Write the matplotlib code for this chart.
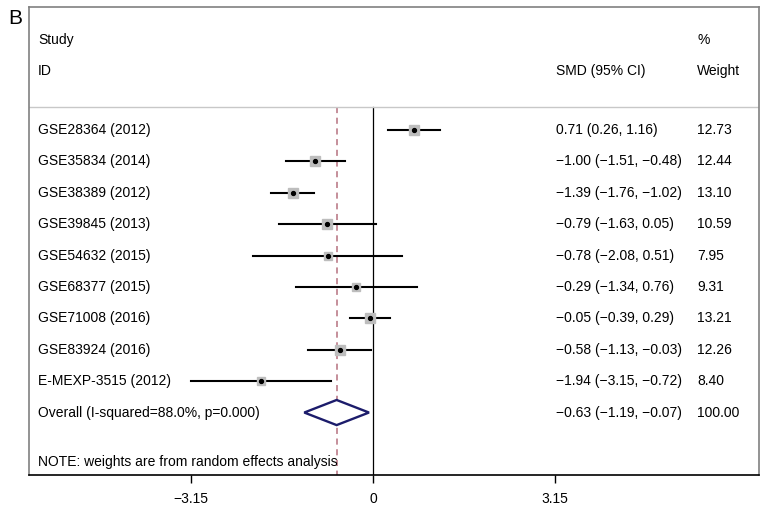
import numpy as np
import matplotlib
matplotlib.use("Agg")
import matplotlib.pyplot as plt

plt.rcParams['font.family'] = ['Liberation Sans', 'DejaVu Sans']

studies = ["GSE28364 (2012)", "GSE35834 (2014)", "GSE38389 (2012)", "GSE39845 (2013)",
           "GSE54632 (2015)", "GSE68377 (2015)", "GSE71008 (2016)", "GSE83924 (2016)",
           "E-MEXP-3515 (2012)"]
smd = [0.71, -1.00, -1.39, -0.79, -0.78, -0.29, -0.05, -0.58, -1.94]
lo = [0.26, -1.51, -1.76, -1.63, -2.08, -1.34, -0.39, -1.13, -3.15]
hi = [1.16, -0.48, -1.02, 0.05, 0.51, 0.76, 0.29, -0.03, -0.72]
weight = [12.73, 12.44, 13.10, 10.59, 7.95, 9.31, 13.21, 12.26, 8.40]

overall_label = "Overall (I-squared=88.0%, p=0.000)"
overall = -0.63
overall_lo = -1.19
overall_hi = -0.07

ticks = [-3.15, 0, 3.15]
tick_labels = ["\u22123.15", "0", "3.15"]


def fmt(v):
    return f"{v:.2f}".replace("-", "\u2212")


fig = plt.figure(figsize=(7.65, 5.07), dpi=100)
ax = fig.add_axes([29 / 765, 1 - 475 / 507, 730 / 765, 468 / 507])

ax.set_xlim(-5.954, 6.68)
ax.set_ylim(10.99, -3.92)

rows = np.arange(len(studies))
fs = 10

# reference lines
ax.plot([0, 0], [-0.73, 10.99], color='black', lw=0.9)
ax.plot([overall, overall], [-0.73, 10.99], color='#b5707e', lw=1.1, ls=(0, (4, 3)))
ax.axhline(-0.73, color='#c8c8c8', lw=1)

for i in rows:
    ax.plot([lo[i], hi[i]], [i, i], color='black', lw=1.5, zorder=3)
    ax.plot(smd[i], i, marker='s', color='#bdbdbd', mec='#bdbdbd',
            markersize=2.0 * np.sqrt(weight[i]), zorder=4)
    ax.plot(smd[i], i, marker='o', color='black', markersize=2.8, zorder=5)
    ax.text(-5.80, i, studies[i], fontsize=fs, va='center')
    ax.text(3.17, i, f"{fmt(smd[i])} ({fmt(lo[i])}, {fmt(hi[i])})", fontsize=fs, va='center')
    ax.text(5.61, i, f"{weight[i]:.2f}", fontsize=fs, va='center')

oy = len(studies)
ax.fill([overall_lo, overall, overall_hi, overall, overall_lo],
        [oy, oy - 0.4, oy, oy + 0.4, oy], facecolor='white', edgecolor='#1c1c6b',
        lw=1.7, zorder=4)
ax.text(-5.80, oy, overall_label, fontsize=fs, va='center')
ax.text(3.17, oy, f"{fmt(overall)} ({fmt(overall_lo)}, {fmt(overall_hi)})", fontsize=fs, va='center')
ax.text(5.61, oy, "100.00", fontsize=fs, va='center')

ax.text(-5.80, 10.56, "NOTE: weights are from random effects analysis", fontsize=fs, va='center')

# header
ax.text(-5.80, -2.87, "Study", fontsize=fs, va='center')
ax.text(-5.80, -1.88, "ID", fontsize=fs, va='center')
ax.text(3.17, -1.88, "SMD (95% CI)", fontsize=fs, va='center')
ax.text(5.61, -2.87, "%", fontsize=fs, va='center')
ax.text(5.61, -1.88, "Weight", fontsize=fs, va='center')

for s in ['left', 'top', 'right']:
    ax.spines[s].set_color('#808080')
    ax.spines[s].set_linewidth(1.2)
ax.spines['bottom'].set_color('black')
ax.spines['bottom'].set_linewidth(1.2)

ax.set_xticks(ticks)
ax.set_xticklabels(tick_labels, fontsize=fs)
ax.set_yticks([])
ax.tick_params(axis='x', direction='out', length=6, width=1, pad=6)

fig.text(8 / 765, 1 - 18 / 507, "B", fontsize=15, va='center', ha='left')

fig.savefig("out.png", dpi=100)
